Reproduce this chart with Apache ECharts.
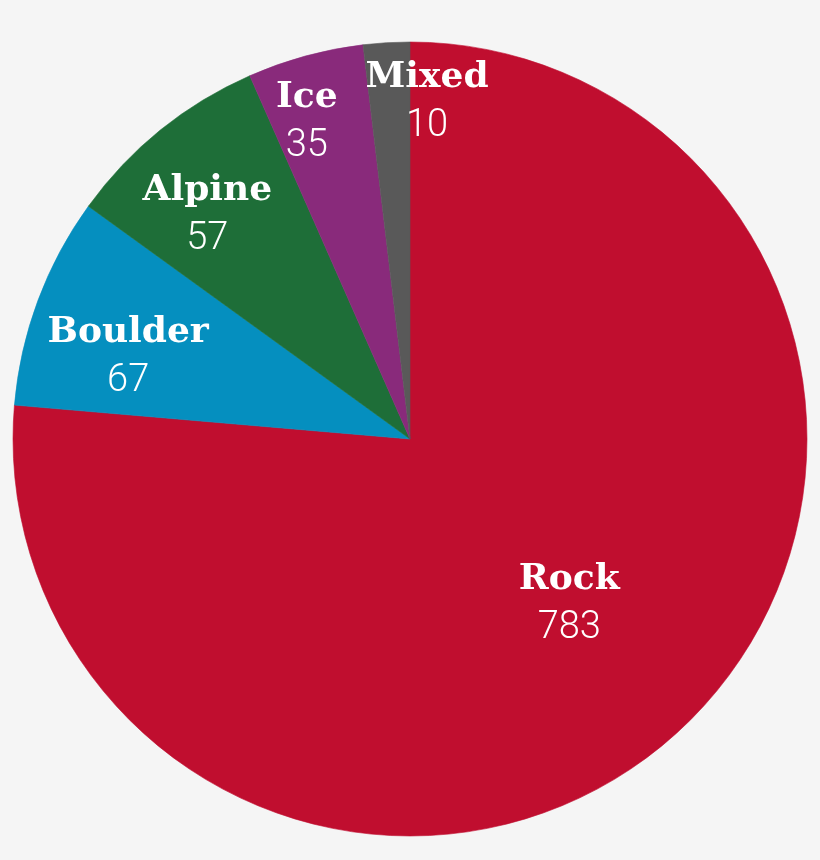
<!DOCTYPE html>
<html>
<head>
<meta charset="utf-8">
<script src="https://cdn.jsdelivr.net/npm/echarts@6/dist/echarts.min.js"></script>
<style>
  html, body { margin: 0; padding: 0; background: #f5f5f5; }
  #chart { width: 820px; height: 860px; }
</style>
</head>
<body>
<div id="chart"></div>
<script>
// Categories in clockwise order starting at 12 o'clock
const categories = ['Rock', 'Boulder', 'Alpine', 'Ice', 'Mixed'];
// Counts printed on the slices
const counts = [783, 67, 57, 35, 10];
// Slice sizes as drawn in the picture (degrees of arc)
const sliceDegrees = [274.9, 31.0, 30.3, 17.0, 6.8];

// Styling (kept separate from data)
const colors = ['#c00e2f', '#058fbf', '#1e6e38', '#892a7b', '#595959'];
const labelShift = [[23, 17], [-93, -11.5], [-76, -67.5], [-50, -122.5], [29, -136]];

const chart = echarts.init(document.getElementById('chart'));
chart.setOption({
  backgroundColor: '#f5f5f5',
  animation: false,
  series: [{
    type: 'pie',
    center: [410, 439],
    radius: 397,
    startAngle: 90,
    clockwise: true,
    avoidLabelOverlap: false,
    silent: true,
    label: {
      show: true,
      position: 'inside',
      color: '#ffffff',
      formatter: function (p) {
        return '{n|' + categories[p.dataIndex] + '}\n{v|' + counts[p.dataIndex] + '}';
      },
      rich: {
        n: {
          fontFamily: 'DejaVu Serif',
          fontWeight: 'bold',
          fontSize: 36,
          lineHeight: 49,
          color: '#ffffff',
          align: 'center'
        },
        v: {
          fontFamily: 'Roboto',
          fontWeight: 300,
          fontSize: 38,
          lineHeight: 49,
          color: '#ffffff',
          align: 'center'
        }
      }
    },
    labelLine: { show: false },
    labelLayout: function (params) {
      const s = labelShift[params.dataIndex];
      return { dx: s[0], dy: s[1] };
    },
    data: categories.map(function (name, i) {
      return {
        name: name,
        value: sliceDegrees[i],
        itemStyle: { color: colors[i], borderColor: colors[i], borderWidth: 0.6 }
      };
    })
  }]
});
</script>
</body>
</html>
